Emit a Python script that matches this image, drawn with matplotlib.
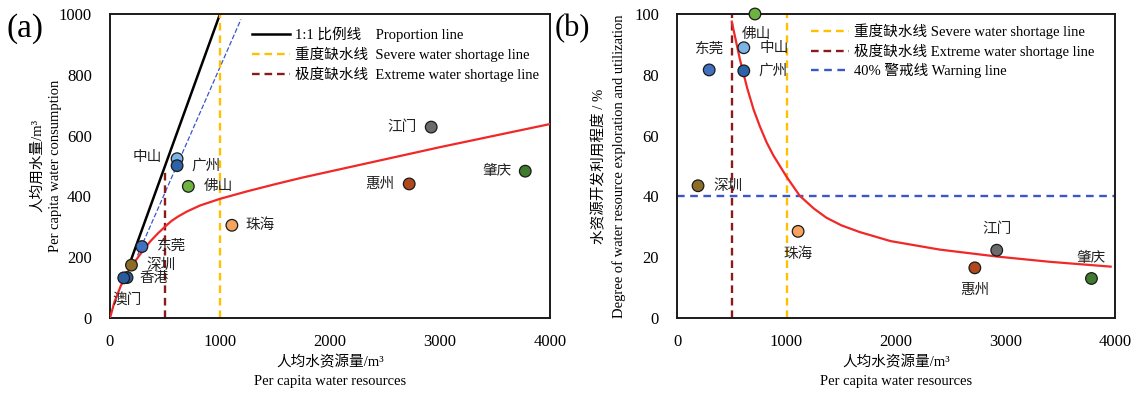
# Per capita water resources vs consumption (a) and exploitation degree (b)
import matplotlib
matplotlib.use("Agg")
import matplotlib.pyplot as plt

plt.rcParams['font.family'] = ['Liberation Serif', 'Noto Sans CJK SC']
plt.rcParams['lines.scale_dashes'] = False
plt.rcParams['axes.unicode_minus'] = False

# cities and their per capita water resources (m3)
CITIES_A = ["江门", "肇庆", "惠州", "珠海", "佛山", "中山", "广州", "东莞", "深圳", "香港", "澳门"]
RES_A = [2920, 3775, 2720, 1108, 712, 610, 610, 290, 195, 155, 125]
USE_A = [628, 483, 441, 305, 433, 524, 501, 235, 174, 133, 132]

CITIES_B = ["佛山", "中山", "广州", "东莞", "深圳", "珠海", "江门", "惠州", "肇庆"]
RES_B = [712, 610, 610, 294, 192, 1106, 2920, 2720, 3785]
DEG_B = [100, 88.9, 81.3, 81.6, 43.5, 28.5, 22.3, 16.5, 13.0]

CITY_COLORS = {
    "江门": "#6b6b6b", "肇庆": "#3f7a2e", "惠州": "#b0481c", "珠海": "#f5a35f",
    "佛山": "#6cb33f", "中山": "#7db4e6", "广州": "#2b62a8", "东莞": "#4270c0",
    "深圳": "#8c6d26", "香港": "#2a5b9c", "澳门": "#2a5b9c",
}

# fitted trend curves
CURVE_A_X = [0, 40, 95, 150, 215, 306, 366, 440, 517, 562, 620, 698, 818, 1000,
             1250, 1500, 1750, 2000, 2500, 3000, 3500, 4000]
CURVE_A_Y = [0, 52, 103, 145, 180, 225, 252, 280, 306, 320, 334, 350, 370, 392,
             417, 440, 462, 482, 522, 562, 600, 638]
CURVE_B_X = [500, 530, 575, 642, 700, 757, 818, 878, 1000, 1121, 1250, 1364, 1500,
             1666, 1950, 2400, 2926, 3400, 3960]
CURVE_B_Y = [97.5, 92.5, 85, 75.5, 68.5, 63, 57.8, 53.6, 46.5, 40.2, 36, 33, 30.5,
             28.3, 25.3, 22.5, 20.2, 18.5, 16.9]

# offsets (px) of the city labels
LABEL_A = {
    "江门": (-15, 0, "right"), "肇庆": (-14, 0, "right"), "惠州": (-15, 0, "right"),
    "珠海": (14, 0, "left"), "佛山": (15, 0, "left"), "中山": (-15, 1, "right"),
    "广州": (14, 0, "left"), "东莞": (15, 0, "left"), "深圳": (15, 0, "left"),
    "香港": (12, -1, "left"), "澳门": (3, -22, "center"),
}
LABEL_B = {
    "佛山": (1, -20, "center"), "中山": (16, -1, "left"), "广州": (15, 0, "left"),
    "东莞": (0, 21, "center"), "深圳": (15, 0, "left"), "珠海": (0, -23, "center"),
    "江门": (0, 21, "center"), "惠州": (0, -22, "center"), "肇庆": (0, 20, "center"),
}

W, H = 1139, 394
fig = plt.figure(figsize=(W / 100, H / 100), dpi=100)
ax1 = fig.add_axes([110 / W, 1 - 318 / H, 440 / W, 304 / H])
ax2 = fig.add_axes([677 / W, 1 - 318 / H, 438 / W, 304 / H])

YELLOW = "#ffc000"
DARKRED = "#8b1a1a"
RED = "#f02828"
BLUE = "#3a56c8"


def style_axes(ax):
    for s in ax.spines.values():
        s.set_linewidth(1.4)
        s.set_color("#1a1a1a")
    ax.tick_params(length=0, labelsize=12)
    ax.tick_params(axis="x", pad=11.5)
    ax.tick_params(axis="y", pad=13)


def put_labels(ax, cities, xs, ys, offsets):
    for c, x, y in zip(cities, xs, ys):
        dx, dy, ha = offsets[c]
        ax.annotate(c, (x, y), xytext=(dx * 0.72, dy * 0.72), textcoords="offset points",
                    ha=ha, va="center", fontsize=10.5, color="#222222", zorder=6)


# ---- (a)
ax1.plot(CURVE_A_X, CURVE_A_Y, color=RED, lw=1.6, zorder=3)
ax1.plot([190, 1000], [190, 1000], color="black", lw=1.8, zorder=2,
         label="1:1 比例线    Proportion line")
ax1.plot([250, 1190], [206, 982], color=BLUE, lw=0.9, dashes=(3.5, 1.5), zorder=2)
ax1.plot([1000, 1000], [0, 1000], color=YELLOW, lw=1.7, dashes=(5.5, 3.5), zorder=2,
         label="重度缺水线  Severe water shortage line")
ax1.plot([500, 500], [0, 485], color=DARKRED, lw=1.7, dashes=(5.5, 3.5), zorder=2,
         label="极度缺水线  Extreme water shortage line")
ax1.scatter(RES_A, USE_A, s=70, c=[CITY_COLORS[c] for c in CITIES_A],
            edgecolors="#1a1a1a", linewidths=0.9, zorder=5)
put_labels(ax1, CITIES_A, RES_A, USE_A, LABEL_A)
ax1.set_xlim(0, 4000)
ax1.set_ylim(0, 1000)
ax1.set_xticks([0, 1000, 2000, 3000, 4000])
ax1.set_yticks([0, 200, 400, 600, 800, 1000])
ax1.set_xlabel("人均水资源量/m³\nPer capita water resources", fontsize=10.5, labelpad=4, linespacing=1.5)
ax1.set_ylabel("人均用水量/m³\nPer capita water consumption", fontsize=10.5, labelpad=-2, linespacing=1.5)
style_axes(ax1)
ax1.legend(loc="upper left", bbox_to_anchor=(0.297, 0.995), frameon=False, fontsize=10.5,
           handlelength=2.6, handletextpad=0.3, labelspacing=0.3, borderpad=0.3)

# ---- (b)
ax2.plot(CURVE_B_X, CURVE_B_Y, color=RED, lw=1.6, zorder=3)
ax2.plot([1000, 1000], [0, 100], color=YELLOW, lw=1.7, dashes=(5.5, 3.5), zorder=2,
         label="重度缺水线 Severe water shortage line")
ax2.plot([500, 500], [0, 100], color=DARKRED, lw=1.7, dashes=(5.5, 3.5), zorder=2,
         label="极度缺水线 Extreme water shortage line")
ax2.plot([0, 4000], [40, 40], color=BLUE, lw=1.7, dashes=(5.5, 4), zorder=2,
         label="40% 警戒线 Warning line")
ax2.scatter(RES_B, DEG_B, s=70, c=[CITY_COLORS[c] for c in CITIES_B],
            edgecolors="#1a1a1a", linewidths=0.9, zorder=5, clip_on=False)
put_labels(ax2, CITIES_B, RES_B, DEG_B, LABEL_B)
ax2.set_xlim(0, 4000)
ax2.set_ylim(0, 100)
ax2.set_xticks([0, 1000, 2000, 3000, 4000])
ax2.set_yticks([0, 20, 40, 60, 80, 100])
ax2.set_xlabel("人均水资源量/m³\nPer capita water resources", fontsize=10.5, labelpad=4, linespacing=1.5)
ax2.set_ylabel("水资源开发利用程度 / %\nDegree of water resource exploration and utilization",
               fontsize=10.5, labelpad=6, linespacing=1.5)
style_axes(ax2)
ax2.legend(loc="upper left", bbox_to_anchor=(0.28, 1.008), frameon=False, fontsize=10.5,
           handlelength=2.6, handletextpad=0.3, labelspacing=0.3, borderpad=0.3)

fig.text(7 / W, 1 - 29 / H, "(a)", fontsize=24, va="center", ha="left")
fig.text(555 / W, 1 - 29 / H, "(b)", fontsize=22, va="center", ha="left")

fig.savefig("out.png", dpi=100)
